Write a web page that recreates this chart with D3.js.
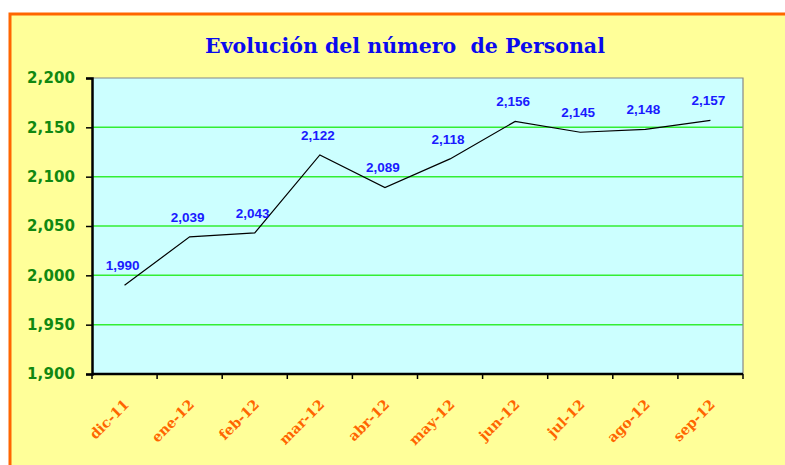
<!DOCTYPE html>
<html>
<head>
<meta charset="utf-8">
<script src="https://cdn.jsdelivr.net/npm/d3@7"></script>
<style>
  html, body { margin: 0; padding: 0; background: #ffffff; }
  svg { display: block; }
</style>
</head>
<body>
<div id="chart"></div>
<script>
// ---- data ----
const categories = ["dic-11", "ene-12", "feb-12", "mar-12", "abr-12", "may-12", "jun-12", "jul-12", "ago-12", "sep-12"];
const personal = [1990, 2039, 2043, 2122, 2089, 2118, 2156, 2145, 2148, 2157];
const yTicks = [1900, 1950, 2000, 2050, 2100, 2150, 2200];
const title = "Evolución del número  de Personal";

// ---- layout ----
const W = 785, H = 465;
const plot = { left: 92, top: 78, right: 743, bottom: 374 };

const svg = d3.select("#chart").append("svg")
  .attr("width", W).attr("height", H);

// outer frame
svg.append("rect")
  .attr("x", 10).attr("y", 14).attr("width", 800).attr("height", 500)
  .attr("fill", "#FFFF99").attr("stroke", "#FF6600").attr("stroke-width", 3);

const x = d3.scaleBand().domain(categories).range([plot.left, plot.right]).padding(0);
const y = d3.scaleLinear().domain([1900, 2200]).range([plot.bottom, plot.top]);

// plot background
svg.append("rect")
  .attr("x", plot.left).attr("y", plot.top)
  .attr("width", plot.right - plot.left).attr("height", plot.bottom - plot.top)
  .attr("fill", "#CCFFFF");

// gridlines
svg.append("g").selectAll("line")
  .data(yTicks.filter(d => d > 1900 && d < 2200))
  .join("line")
  .attr("x1", plot.left).attr("x2", plot.right)
  .attr("y1", d => y(d)).attr("y2", d => y(d))
  .attr("stroke", "#33EE33").attr("stroke-width", 1.5);

// top & right borders (gray)
svg.append("path")
  .attr("d", `M${plot.left},${y(2200)}H${plot.right}V${plot.bottom}`)
  .attr("fill", "none").attr("stroke", "#888888").attr("stroke-width", 1.2);

// y axis
const yAxis = svg.append("g")
  .attr("transform", `translate(${plot.left},0)`)
  .call(d3.axisLeft(y).tickValues(yTicks).tickSize(6).tickPadding(11)
    .tickFormat(d3.format(",")));
yAxis.select(".domain").attr("stroke", "#000").attr("stroke-width", 2.5);
yAxis.selectAll(".tick line").attr("stroke", "#000").attr("stroke-width", 1.5);
yAxis.selectAll(".tick text")
  .attr("fill", "#118811")
  .style("font-family", "'DejaVu Sans', Verdana, sans-serif")
  .style("font-weight", "bold")
  .style("font-size", "15px")
  .style("letter-spacing", "0.1px");

// x axis (ticks at band boundaries)
const xb = svg.append("g");
xb.append("line")
  .attr("x1", plot.left).attr("x2", plot.right)
  .attr("y1", plot.bottom).attr("y2", plot.bottom)
  .attr("stroke", "#000").attr("stroke-width", 2.5);
const boundaries = categories.map(c => x(c)).concat([x(categories[categories.length - 1]) + x.bandwidth()]);
xb.selectAll("line.tk").data(boundaries).join("line")
  .attr("class", "tk")
  .attr("x1", d => d).attr("x2", d => d)
  .attr("y1", plot.bottom).attr("y2", plot.bottom + 5)
  .attr("stroke", "#000").attr("stroke-width", 1.5);

// x labels rotated
xb.selectAll("text").data(categories).join("text")
  .attr("transform", d => `translate(${x(d) + x.bandwidth() / 2 + 2},${plot.bottom + 28}) rotate(-45)`)
  .attr("text-anchor", "end")
  .attr("dy", "0.35em")
  .attr("fill", "#FF6600")
  .style("font-family", "'DejaVu Serif', serif")
  .style("font-weight", "bold")
  .style("font-size", "14px")
  .text(d => d);

// line
const line = d3.line()
  .x((d, i) => x(categories[i]) + x.bandwidth() / 2)
  .y(d => y(d));
svg.append("path")
  .datum(personal)
  .attr("d", line)
  .attr("fill", "none")
  .attr("stroke", "#000")
  .attr("stroke-width", 1.2);

// data labels
svg.append("g").selectAll("text").data(personal).join("text")
  .attr("x", (d, i) => x(categories[i]) + x.bandwidth() / 2 - 2)
  .attr("y", d => y(d) - 20)
  .attr("dy", "0.35em")
  .attr("text-anchor", "middle")
  .attr("fill", "#1A1AFF")
  .style("font-family", "'Liberation Sans', Arial, sans-serif")
  .style("font-weight", "bold")
  .style("font-size", "13.5px")
  .text(d => d3.format(",")(d));

// title
svg.append("text")
  .attr("x", 405).attr("y", 53)
  .attr("text-anchor", "middle")
  .attr("fill", "#0A0AEE")
  .style("font-family", "'DejaVu Serif', serif")
  .style("font-weight", "bold")
  .style("font-size", "20.5px")
  .style("white-space", "pre")
  .text(title);
</script>
</body>
</html>
